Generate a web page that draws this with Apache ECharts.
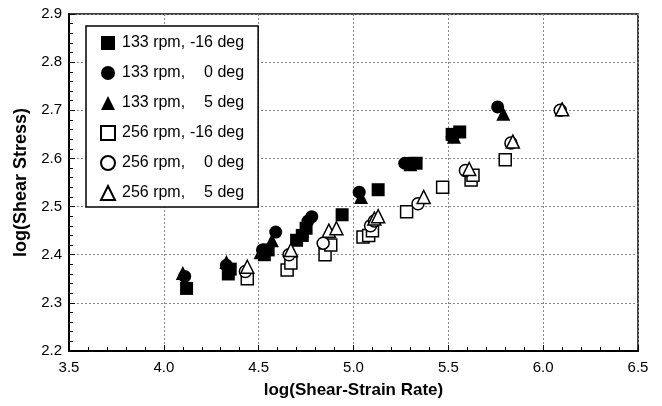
<!DOCTYPE html>
<html>
<head>
<meta charset="utf-8">
<script src="https://cdn.jsdelivr.net/npm/echarts@6/dist/echarts.min.js"></script>
<style>
  html, body { margin: 0; padding: 0; background: #fff; }
  #chart { width: 662px; height: 406px; }
</style>
</head>
<body>
<div id="chart"></div>
<script>
// data: [log(shear-strain rate), log(shear stress)]
var rpm133_m16 = [[4.12,2.33],[4.34,2.36],[4.35,2.37],[4.53,2.40],[4.55,2.41],[4.70,2.43],[4.73,2.44],[4.75,2.455],[4.94,2.483],[5.13,2.535],[5.33,2.59],[5.52,2.65],[5.56,2.655]];
var rpm133_0 = [[4.11,2.355],[4.33,2.378],[4.52,2.41],[4.59,2.447],[4.76,2.47],[4.78,2.479],[5.03,2.53],[5.27,2.59],[5.29,2.59],[5.52,2.645],[5.76,2.707]];
var rpm133_5 = [[4.10,2.362],[4.33,2.385],[4.51,2.405],[4.57,2.43],[4.73,2.45],[5.04,2.52],[5.30,2.588],[5.53,2.645],[5.79,2.693]];
var rpm256_m16 = [[4.44,2.35],[4.65,2.368],[4.67,2.383],[4.85,2.40],[4.88,2.42],[5.05,2.437],[5.08,2.44],[5.10,2.45],[5.28,2.489],[5.47,2.54],[5.62,2.555],[5.63,2.565],[5.80,2.597]];
var rpm256_0 = [[4.43,2.365],[4.66,2.40],[4.84,2.424],[5.09,2.46],[5.11,2.47],[5.34,2.506],[5.59,2.575],[5.83,2.632],[6.09,2.70]];
var rpm256_5 = [[4.44,2.375],[4.67,2.41],[4.87,2.45],[4.91,2.455],[5.11,2.475],[5.13,2.48],[5.37,2.52],[5.61,2.578],[5.84,2.635],[6.10,2.702]];

var seriesNames = ['133 rpm, -16 deg', '133 rpm, 0 deg', '133 rpm, 5 deg',
                   '256 rpm, -16 deg', '256 rpm, 0 deg', '256 rpm, 5 deg'];
var xTicks = [3.5, 6.5, 0.5];
var yTicks = [2.2, 2.9, 0.1];

var FONT = 'Liberation Sans';
var chart = echarts.init(document.getElementById('chart'));

function mk(name, data, symbol, size, filled) {
  return {
    name: name,
    type: 'scatter',
    data: data,
    symbol: symbol,
    symbolSize: size,
    itemStyle: filled
      ? { color: '#000', borderColor: '#000', borderWidth: 0, opacity: 1 }
      : { color: '#fff', borderColor: '#000', borderWidth: 1.5, opacity: 1 }
  };
}

chart.setOption({
  backgroundColor: '#fff',
  animation: false,
  grid: { left: 69, right: 24, top: 14, bottom: 55, show: true, borderColor: '#000', borderWidth: 1.5 },
  legend: {
    orient: 'vertical',
    left: 86, top: 26,
    padding: [9, 14, 6, 14],
    itemGap: 14,
    itemWidth: 14, itemHeight: 14,
    borderColor: '#000', borderWidth: 1.5,
    backgroundColor: '#fff',
    data: seriesNames,
    formatter: function (n) {
      var p = n.split(', ');
      return '{a|' + p[0] + ',}{b|' + p[1] + '}';
    },
    textStyle: {
      fontFamily: FONT, fontSize: 16, color: '#000',
      rich: {
        a: { fontFamily: FONT, fontSize: 16, padding: [0, 0, 0, 2] },
        b: { fontFamily: FONT, fontSize: 16, width: 59, align: 'right' }
      }
    }
  },
  xAxis: {
    type: 'value',
    min: xTicks[0], max: xTicks[1], interval: xTicks[2],
    name: 'log(Shear-Strain Rate)',
    nameLocation: 'middle', nameGap: 31,
    nameTextStyle: { fontFamily: FONT, fontSize: 17, fontWeight: 'bold', color: '#000' },
    axisLine: { lineStyle: { color: '#000', width: 2 } },
    axisTick: { inside: true, length: 6, lineStyle: { color: '#000' } },
    minorTick: { show: true, splitNumber: 5, length: 4, lineStyle: { color: '#000' } },
    axisLabel: { fontFamily: FONT, fontSize: 15, color: '#000', margin: 9,
                 formatter: function (v) { return v.toFixed(1); } },
    splitLine: { show: true, lineStyle: { color: '#888', type: [2, 2], width: 1 } }
  },
  yAxis: {
    type: 'value',
    min: yTicks[0], max: yTicks[1], interval: yTicks[2],
    name: 'log(Shear Stress)',
    nameLocation: 'middle', nameGap: 33,
    nameTextStyle: { fontFamily: FONT, fontSize: 18, fontWeight: 'bold', color: '#000' },
    axisLine: { lineStyle: { color: '#000', width: 2 } },
    axisTick: { inside: true, length: 6, lineStyle: { color: '#000' } },
    minorTick: { show: true, splitNumber: 5, length: 4, lineStyle: { color: '#000' } },
    axisLabel: { fontFamily: FONT, fontSize: 15, color: '#000', margin: 7,
                 formatter: function (v) { return v.toFixed(1); } },
    splitLine: { show: true, lineStyle: { color: '#888', type: [2, 2], width: 1 } }
  },
  series: [
    mk(seriesNames[0], rpm133_m16, 'rect', 13, true),
    mk(seriesNames[1], rpm133_0, 'circle', 13, true),
    mk(seriesNames[2], rpm133_5, 'triangle', 14, true),
    mk(seriesNames[3], rpm256_m16, 'rect', 12, false),
    mk(seriesNames[4], rpm256_0, 'circle', 12, false),
    mk(seriesNames[5], rpm256_5, 'triangle', 13, false)
  ]
});
</script>
</body>
</html>
